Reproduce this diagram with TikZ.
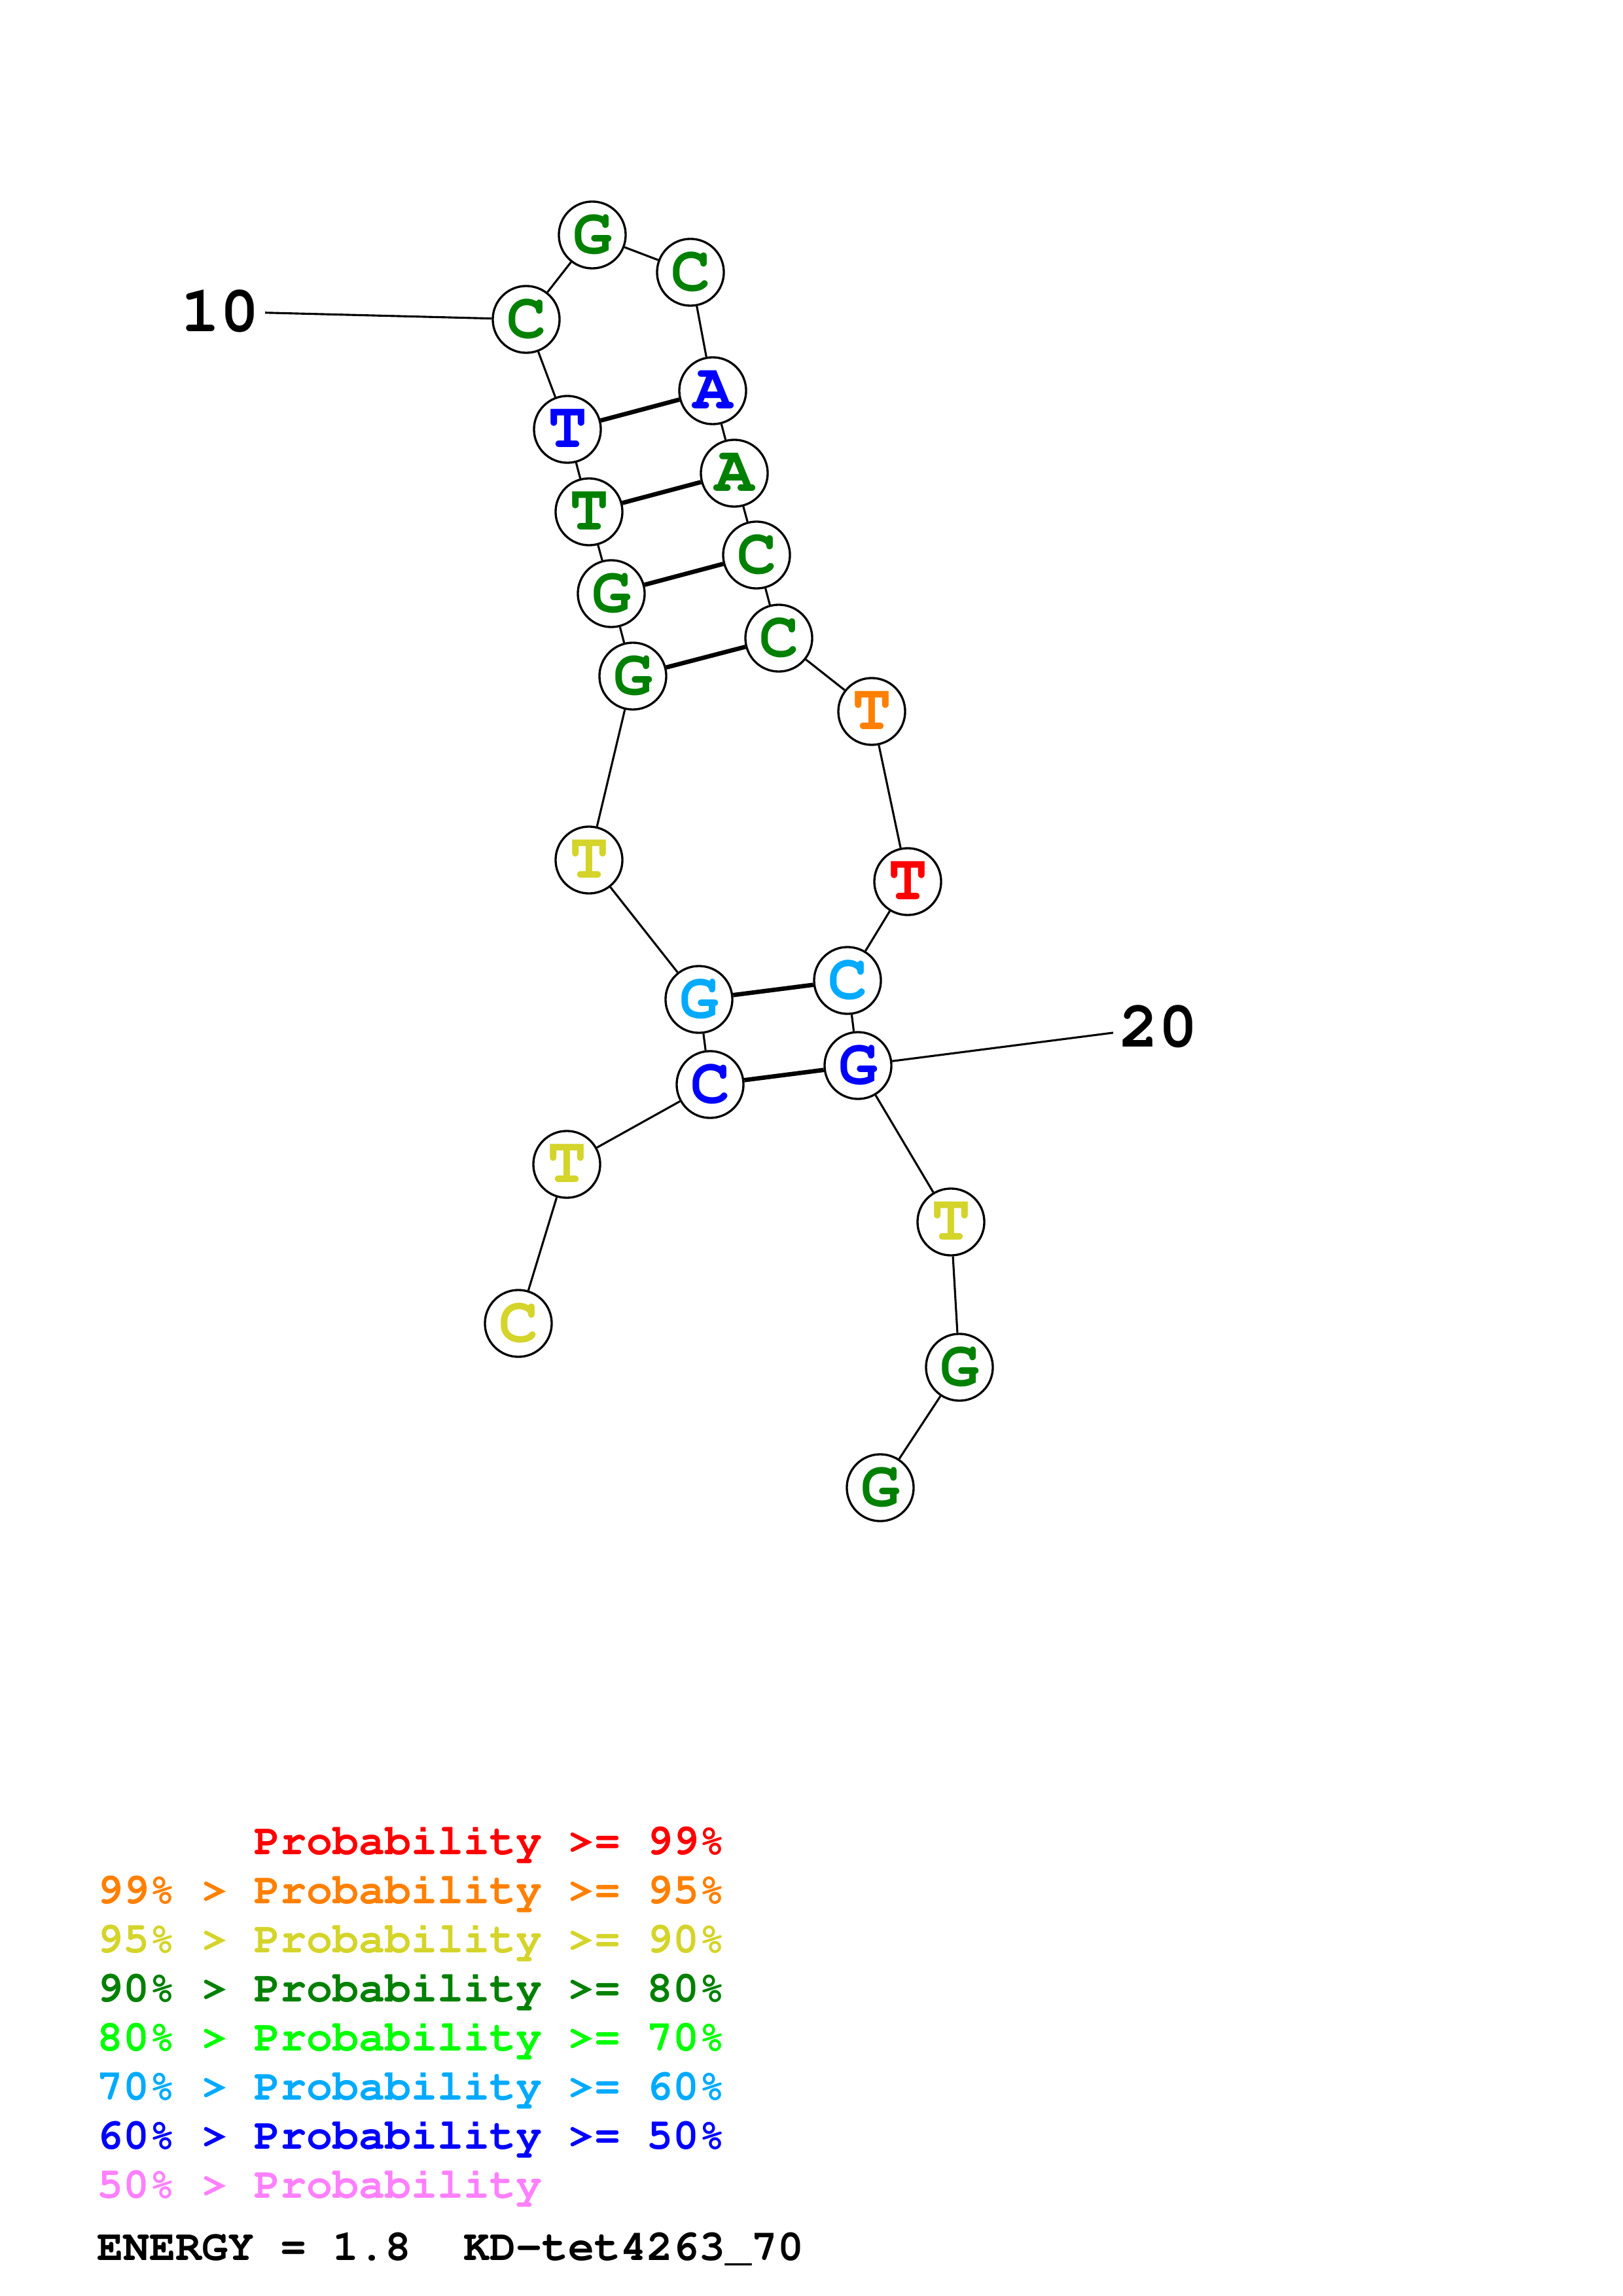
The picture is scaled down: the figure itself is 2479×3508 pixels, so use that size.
\documentclass[tikz,border=0pt]{standalone}
\usepackage[T1]{fontenc}
\usepackage[table]{xcolor}
\usepackage{tikz}

\definecolor{pred}{RGB}{255,0,0}
\definecolor{porange}{RGB}{255,128,0}
\definecolor{pyellow}{RGB}{212,212,42}
\definecolor{pgreen}{RGB}{0,128,0}
\definecolor{plime}{RGB}{0,255,0}
\definecolor{psky}{RGB}{0,170,255}
\definecolor{pblue}{RGB}{0,0,255}
\definecolor{ppink}{RGB}{255,128,255}

\newcommand{\nucfont}{\fontfamily{pcr}\fontseries{b}\fontsize{24}{24}\selectfont}
\newcommand{\legfont}{\fontfamily{pcr}\fontseries{b}\fontsize{16}{16}\selectfont}

\tikzset{
  base/.style={circle, draw, fill=white, line width=0.8pt, minimum size=24.5pt, inner sep=0pt, font=\nucfont},
  bb/.style={line width=0.75pt},
  pair/.style={line width=1.6pt},
  legline/.style={anchor=base west, inner sep=0pt, font=\legfont},
  numlabel/.style={inner sep=2pt, font=\nucfont}
}

\begin{document}
\begin{tikzpicture}[x=0.24pt, y=-0.24pt]
        \useasboundingbox (0,0) rectangle (2479,3508);                 %
        \node[base, text=pyellow] (n1)  at (792,2022)  {C};            %1
        \node[base, text=pyellow] (n2)  at (866,1779)  {T};            %
        \node[base, text=pblue]   (n3)  at (1085,1657) {C};            %
        \node[base, text=psky]    (n4)  at (1068,1527) {G};            %
        \node[base, text=pyellow] (n5)  at (900,1314)  {T};            %
        \node[base, text=pgreen]  (n6)  at (967,1033)  {G};            %
        \node[base, text=pgreen]  (n7)  at (934,907)   {G};            %
        \node[base, text=pgreen]  (n8)  at (900,782)   {T};            %
        \node[base, text=pblue]   (n9)  at (867,656)   {T};            %
        \node[base, text=pgreen]  (n10) at (804,488)   {C};            %10
        \node[base, text=pgreen]  (n11) at (905,359)   {G};            %
        \node[base, text=pgreen]  (n12) at (1055,416)  {C};            %
        \node[base, text=pblue]   (n13) at (1089,597)  {A};            %
        \node[base, text=pgreen]  (n14) at (1122,723)  {A};            %
        \node[base, text=pgreen]  (n15) at (1156,848)  {C};            %
        \node[base, text=pgreen]  (n16) at (1190,975)  {C};            %
        \node[base, text=porange] (n17) at (1332,1087) {T};            %
        \node[base, text=pred]    (n18) at (1387,1347) {T};            %
        \node[base, text=psky]    (n19) at (1295,1498) {C};            %
        \node[base, text=pblue]   (n20) at (1311,1628) {G};            %20
        \node[base, text=pyellow] (n21) at (1453,1867) {T};            %
        \node[base, text=pgreen]  (n22) at (1466,2089) {G};            %
        \node[base, text=pgreen]  (n23) at (1345,2273) {G};            %23
        \draw [bb] (n1) -- (n2) -- (n3) -- (n4) -- (n5) -- (n6) -- (n7) -- (n8) -- (n9) -- (n10) -- (n11) -- (n12);
        \draw [bb] (n12) -- (n13) -- (n14) -- (n15) -- (n16) -- (n17) -- (n18) -- (n19) -- (n20) -- (n21) -- (n22) -- (n23);
        \draw [pair] (n9) -- (n13);                                    %pairs
        \draw [pair] (n8) -- (n14);                                    %
        \draw [pair] (n7) -- (n15);                                    %
        \draw [pair] (n6) -- (n16);                                    %
        \draw [pair] (n4) -- (n19);                                    %
        \draw [pair] (n3) -- (n20);                                    %
        \node[numlabel] (lab10) at (336,476)  {10};                    %
        \node[numlabel] (lab20) at (1770,1569) {20};                   %
        \draw [bb] (lab10) -- (n10);                                   %
        \draw [bb] (lab20) -- (n20);                                   %
        \node[legline, text=pred]    (leg1) at (388,2833) {Probability >= 99\%};
        \node[legline, text=porange] (leg2) at (148,2908) {99\% > Probability >= 95\%};
        \node[legline, text=pyellow] (leg3) at (148,2983) {95\% > Probability >= 90\%};
        \node[legline, text=pgreen]  (leg4) at (148,3058) {90\% > Probability >= 80\%};
        \node[legline, text=plime]   (leg5) at (148,3133) {80\% > Probability >= 70\%};
        \node[legline, text=psky]    (leg6) at (148,3208) {70\% > Probability >= 60\%};
        \node[legline, text=pblue]   (leg7) at (148,3283) {60\% > Probability >= 50\%};
        \node[legline, text=ppink]   (leg8) at (148,3358) {50\% > Probability};
        \node[legline, text=black]   (energy) at (148,3453) {ENERGY = 1.8~ KD-tet4263\_70};
\end{tikzpicture}
\end{document}
